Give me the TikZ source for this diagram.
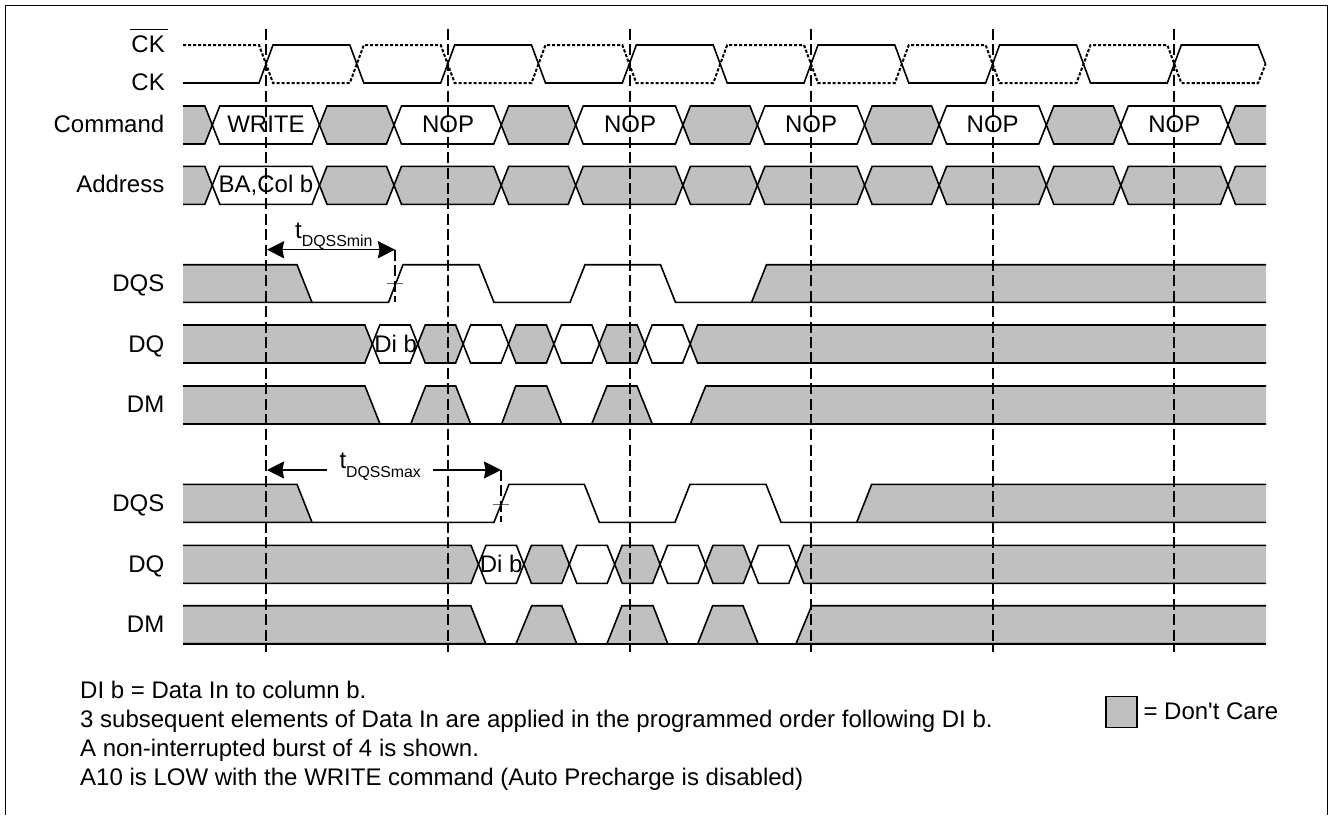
\documentclass[tikz,border=0pt]{standalone}
\usepackage{fontspec}
\setmainfont{Liberation Sans}
\usetikzlibrary{arrows.meta}
\definecolor{dontcare}{RGB}{192,192,192}

\begin{document}
\begin{tikzpicture}[
  x=1pt, y=-1pt,
  sigline/.style={line width=1.6pt, line join=miter, black},
  clkbar/.style={sigline, line width=2pt, dash pattern=on 3.2pt off 1.8pt},
  guide/.style={line width=1.8pt, dash pattern=on 11pt off 4.4pt},
  tick/.style={line width=0.7pt, black!60},
  timearrow/.style={line width=1.5pt, {Stealth[length=17pt,width=17pt,inset=1.5pt]}-{Stealth[length=17pt,width=17pt,inset=1.5pt]}},
  timearrowleft/.style={line width=1.5pt, -{Stealth[length=17pt,width=17pt,inset=1.5pt]}},
  siglabel/.style={anchor=base east},
  celltext/.style={anchor=base},
  notetext/.style={anchor=base west},
  pics/hexgray/.style={code={\filldraw[sigline, fill=dontcare] (0,0) -- (7.5,-19) -- (#1-7.5,-19) -- (#1,0) -- (#1-7.5,19) -- (7.5,19) -- cycle;}},
  pics/hexwhite/.style={code={\draw[sigline] (0,0) -- (7.5,-19) -- (#1-7.5,-19) -- (#1,0) -- (#1-7.5,19) -- (7.5,19) -- cycle;}},
  every node/.style={font=\fontsize{24}{28}\selectfont, inner sep=0pt}
]
\useasboundingbox (0,0) rectangle (1329,815);

% ====== FRAME ======
\draw[line width=1.2pt] (5.5,815) -- (5.5,5.5) -- (1327.5,5.5) -- (1327.5,815);

% ====== CK ======
\node[siglabel] (ckbar) at (165,52.2) {CK};
\node[siglabel] (ck) at (165,90.2) {CK};
\draw[line width=1pt] (130,29.5) -- (168,29.5);
\draw[clkbar] (183,45) -- (259,45) -- (273,83) -- (349.8,83) -- (363.8,45) -- (440.7,45) -- (454.7,83) -- (531.5,83) -- (545.5,45) -- (622.3,45) -- (636.3,83) -- (713.2,83) -- (727.2,45) -- (804,45) -- (818,83) -- (894.8,83) -- (908.8,45) -- (985.6,45) -- (999.6,83) -- (1076.5,83) -- (1090.5,45) -- (1167.3,45) -- (1181.3,83) -- (1258.1,83) -- (1265.5,64);
\draw[sigline] (183,83) -- (259,83) -- (273,45) -- (349.8,45) -- (363.8,83) -- (440.7,83) -- (454.7,45) -- (531.5,45) -- (545.5,83) -- (622.3,83) -- (636.3,45) -- (713.2,45) -- (727.2,83) -- (804,83) -- (818,45) -- (894.8,45) -- (908.8,83) -- (985.6,83) -- (999.6,45) -- (1076.5,45) -- (1090.5,83) -- (1167.3,83) -- (1181.3,45) -- (1258.1,45) -- (1265.5,64);

% ====== COMMAND ======
\node[siglabel] (command) at (164.5,132.2) {Command};
\filldraw[sigline, fill=dontcare] (183,106) -- (204.8,106) -- (212.3,125) -- (204.8,144) -- (183,144);
\pic at (212.3,125) {hexwhite=107.2};
\pic at (319.5,125) {hexgray=74.5};
\pic at (394,125) {hexwhite=107.2};
\pic at (501.2,125) {hexgray=74.5};
\pic at (575.7,125) {hexwhite=107.2};
\pic at (682.9,125) {hexgray=74.5};
\pic at (757.4,125) {hexwhite=107.2};
\pic at (864.6,125) {hexgray=74.5};
\pic at (939.1,125) {hexwhite=107.2};
\pic at (1046.3,125) {hexgray=74.5};
\pic at (1120.8,125) {hexwhite=107.2};
\filldraw[sigline, fill=dontcare] (1266,106) -- (1235.5,106) -- (1228,125) -- (1235.5,144) -- (1266,144);
\node[celltext] (write) at (266,132.2) {WRITE};
\node[celltext] (nop1) at (448,132.2) {NOP};
\node[celltext] (nop2) at (630,132.2) {NOP};
\node[celltext] (nop3) at (811,132.2) {NOP};
\node[celltext] (nop4) at (992.7,132.2) {NOP};
\node[celltext] (nop5) at (1174.3,132.2) {NOP};

% ====== ADDRESS ======
\node[siglabel] (address) at (164.5,192.8) {Address};
\filldraw[sigline, fill=dontcare] (183,166.3) -- (204.8,166.3) -- (212.3,185.3) -- (204.8,204.3) -- (183,204.3);
\pic at (212.3,185.3) {hexwhite=107.2};
\pic at (319.5,185.3) {hexgray=74.5};
\pic at (394,185.3) {hexgray=107.2};
\pic at (501.2,185.3) {hexgray=74.5};
\pic at (575.7,185.3) {hexgray=107.2};
\pic at (682.9,185.3) {hexgray=74.5};
\pic at (757.4,185.3) {hexgray=107.2};
\pic at (864.6,185.3) {hexgray=74.5};
\pic at (939.1,185.3) {hexgray=107.2};
\pic at (1046.3,185.3) {hexgray=74.5};
\pic at (1120.8,185.3) {hexgray=107.2};
\filldraw[sigline, fill=dontcare] (1266,166.3) -- (1235.5,166.3) -- (1228,185.3) -- (1235.5,204.3) -- (1266,204.3);
\node[celltext] (bacol) at (266,192.8) {BA,Col b};

% ====== DQS (tDQSSmin) ======
\node[siglabel] (dqsmin) at (164.5,291.2) {DQS};
\filldraw[sigline, fill=dontcare] (183,264.7) -- (297,264.7) -- (312,302.4) -- (183,302.4);
\draw[sigline] (312,302.4) -- (388.5,302.4) -- (403,264.7) -- (479,264.7) -- (494,302.4) -- (570,302.4) -- (585,264.7) -- (660.5,264.7) -- (675.5,302.4) -- (751.5,302.4);
\filldraw[sigline, fill=dontcare] (1266,264.7) -- (766.5,264.7) -- (751.5,302.4) -- (1266,302.4);
\draw[tick] (387,283.5) -- (403,283.5);
\coordinate (minstart) at (267,249.7);
\coordinate (minend) at (395,249.7);
\coordinate (minfoot) at (395,302.4);
\draw[timearrow] (minstart) -- (minend);
\draw[guide] (minend) -- (minfoot);
\node[anchor=base west] (tmin) at (295,238.2) {t\raisebox{-8.3pt}{\fontsize{15.9}{16}\selectfont DQSSmin}};

% ====== DQ (tDQSSmin) ======
\node[siglabel] (dqmin) at (164.5,352.2) {DQ};
\filldraw[sigline, fill=dontcare] (183,325) -- (364.8,325) -- (372.3,344) -- (364.8,363) -- (183,363);
\pic at (372.3,344) {hexwhite=45.4};
\pic at (417.7,344) {hexgray=45.4};
\pic at (463.1,344) {hexwhite=45.4};
\pic at (508.5,344) {hexgray=45.4};
\pic at (553.9,344) {hexwhite=45.4};
\pic at (599.3,344) {hexgray=45.4};
\pic at (644.7,344) {hexwhite=45.4};
\filldraw[sigline, fill=dontcare] (1266,325) -- (697.6,325) -- (690.1,344) -- (697.6,363) -- (1266,363);
\node[celltext] (dibmin) at (395.7,352.2) {Di b};

% ====== DM (tDQSSmin) ======
\node[siglabel] (dmmin) at (164.5,412.2) {DM};
\filldraw[sigline, fill=dontcare] (183,386) -- (365,386) -- (380,424) -- (183,424);
\filldraw[sigline, fill=dontcare] (410.7,424) -- (425.7,386) -- (455.7,386) -- (470.7,424);
\filldraw[sigline, fill=dontcare] (501.7,424) -- (515.7,386) -- (546.7,386) -- (561.7,424);
\filldraw[sigline, fill=dontcare] (591.7,424) -- (607,386) -- (637,386) -- (652.3,424);
\filldraw[sigline, fill=dontcare] (1266,386) -- (705.7,386) -- (690.3,424) -- (1266,424);
\draw[sigline] (183,424) -- (1266,424);

% ====== DQS (tDQSSmax) ======
\node[siglabel] (dqsmax) at (164.5,511.5) {DQS};
\filldraw[sigline, fill=dontcare] (183,484.3) -- (297,484.3) -- (312,522.3) -- (183,522.3);
\draw[sigline] (312,522.3) -- (494,522.3) -- (509,484.3) -- (584.3,484.3) -- (599.3,522.3) -- (675,522.3) -- (690,484.3) -- (766,484.3) -- (781,522.3) -- (856.7,522.3);
\filldraw[sigline, fill=dontcare] (1266,484.3) -- (871.7,484.3) -- (856.7,522.3) -- (1266,522.3);
\draw[tick] (493,504) -- (509,504);
\node[anchor=base west] (tmax) at (339.3,468.8) {t\raisebox{-8.3pt}{\fontsize{15.8}{16}\selectfont DQSSmax}};
\coordinate (maxstart) at (267,470);
\coordinate (maxend) at (501,470);
\coordinate (maxfoot) at (501,522.3);
\coordinate (maxgapl) at (327,470);
\coordinate (maxgapr) at (433,470);
\draw[timearrowleft] (maxgapl) -- (maxstart);
\draw[timearrowleft] (maxgapr) -- (maxend);
\draw[guide] (maxend) -- (maxfoot);

% ====== DQ (tDQSSmax) ======
\node[siglabel] (dqmax) at (164.5,572.2) {DQ};
\filldraw[sigline, fill=dontcare] (183,545.3) -- (471,545.3) -- (478.5,564.3) -- (471,583.3) -- (183,583.3);
\pic at (478.5,564.3) {hexwhite=45.4};
\pic at (523.9,564.3) {hexgray=45.4};
\pic at (569.3,564.3) {hexwhite=45.4};
\pic at (614.7,564.3) {hexgray=45.4};
\pic at (660.1,564.3) {hexwhite=45.4};
\pic at (705.5,564.3) {hexgray=45.4};
\pic at (750.9,564.3) {hexwhite=45.4};
\filldraw[sigline, fill=dontcare] (1266,545.3) -- (803.8,545.3) -- (796.3,564.3) -- (803.8,583.3) -- (1266,583.3);
\node[celltext] (dibmax) at (501.2,572.2) {Di b};

% ====== DM (tDQSSmax) ======
\node[siglabel] (dmmax) at (164.5,632.2) {DM};
\filldraw[sigline, fill=dontcare] (183,605.7) -- (470.7,605.7) -- (485.7,643.7) -- (183,643.7);
\filldraw[sigline, fill=dontcare] (516,643.7) -- (531.7,605.7) -- (561.7,605.7) -- (576.7,643.7);
\filldraw[sigline, fill=dontcare] (607,643.7) -- (622,605.7) -- (653,605.7) -- (667.7,643.7);
\filldraw[sigline, fill=dontcare] (697.7,643.7) -- (712.7,605.7) -- (743,605.7) -- (758,643.7);
\filldraw[sigline, fill=dontcare] (1266,605.7) -- (811.7,605.7) -- (796,643.7) -- (1266,643.7);
\draw[sigline] (183,643.7) -- (1266,643.7);

% ====== CLOCK GUIDES ======
\draw[guide] (266,29) -- (266,651.7);
\draw[guide] (447.7,29) -- (447.7,651.7);
\draw[guide] (629.7,29) -- (629.7,651.7);
\draw[guide] (811,29) -- (811,651.7);
\draw[guide] (992.7,29) -- (992.7,651.7);
\draw[guide] (1174.3,29) -- (1174.3,651.7);

% ====== NOTES ======
\node[notetext] (note1) at (80,698.6) {DI b = Data In to column b.};
\node[notetext] (note2) at (80,727.3) {3 subsequent elements of Data In are applied in the programmed order following DI b.};
\node[notetext] (note3) at (80,756.3) {A non-interrupted burst of 4 is shown.};
\node[notetext] (note4) at (80,785.3) {A10 is LOW with the WRITE command (Auto Precharge is disabled)};

% ====== LEGEND ======
\node[draw, line width=1.4pt, fill=dontcare, minimum width=31pt, minimum height=31pt] (carebox) at (1121.3,712.2) {};
\node[notetext] (caretext) at (1143.3,719.3) {= Don\textquotesingle t Care};

\end{tikzpicture}
\end{document}
